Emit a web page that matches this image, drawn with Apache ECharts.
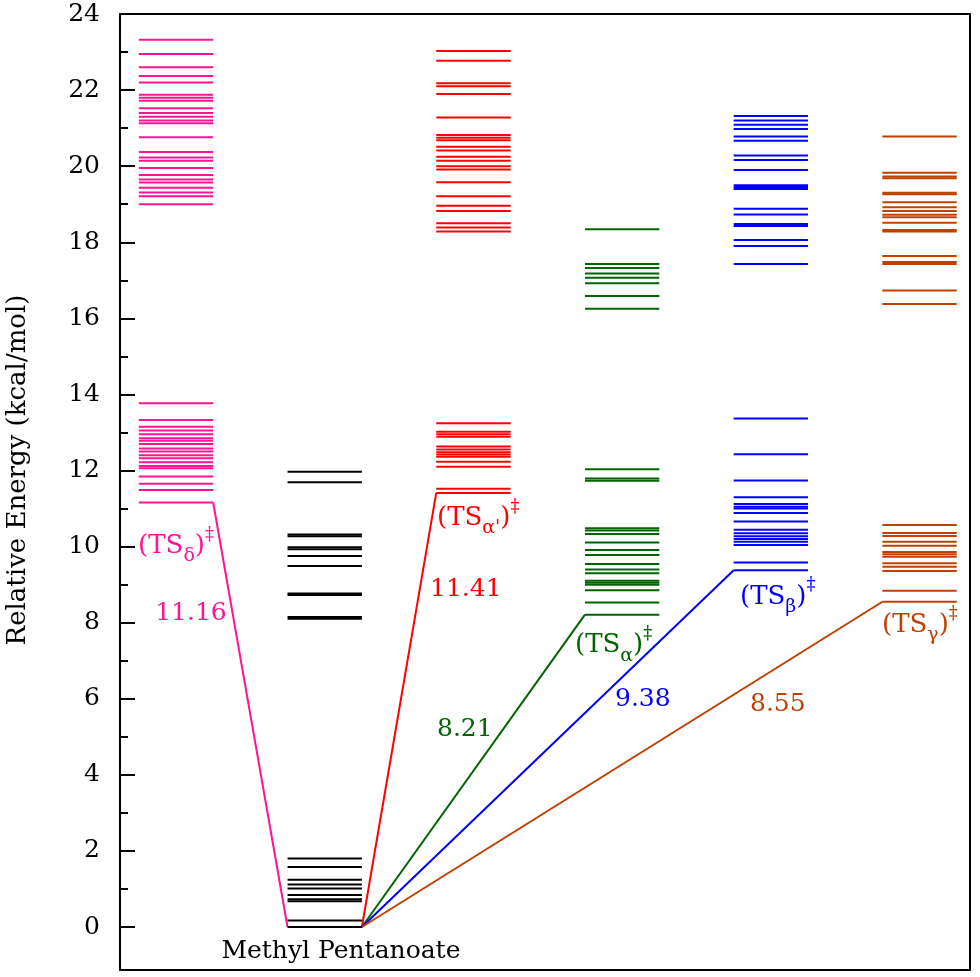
<!DOCTYPE html>
<html>
<head>
<meta charset="utf-8">
<script src="https://cdn.jsdelivr.net/npm/echarts@6/dist/echarts.min.js"></script>
<style>html,body{margin:0;padding:0;background:#fff}#c{width:980px;height:977px}</style>
</head>
<body>
<div id="c"></div>
<script>
// ---- data ----
const columns = ['TSδ', 'Methyl Pentanoate', "TSα'", 'TSα', 'TSβ', 'TSγ'];
const colors = ['#ff1493', '#000000', '#ff0000', '#006400', '#0000ff', '#c04000'];
const tsDelta = [23.32, 22.95, 22.60, 22.37, 22.20, 21.88, 21.80, 21.72, 21.52, 21.40, 21.30, 21.20, 21.13, 20.76, 20.37, 20.23, 20.14, 19.95, 19.77, 19.65, 19.57, 19.43, 19.31, 19.21, 19.00,
  13.77, 13.33, 13.15, 13.05, 12.95, 12.85, 12.78, 12.70, 12.58, 12.50, 12.40, 12.32, 12.22, 12.12, 12.06, 11.84, 11.65, 11.49, 11.16];
const methylPentanoate = [11.97, 11.69, 10.32, 10.27, 9.98, 9.93, 9.75, 9.49, 8.77, 8.73, 8.15, 8.10,
  1.80, 1.58, 1.24, 1.12, 1.01, 0.84, 0.73, 0.68, 0.17, 0];
const tsAlphaPrime = [23.03, 22.77, 22.18, 22.10, 21.90, 21.28, 20.82, 20.75, 20.68, 20.51, 20.41, 20.25, 20.14, 20.00, 19.91, 19.58, 19.21, 18.96, 18.82, 18.50, 18.39, 18.28,
  13.24, 13.02, 12.95, 12.89, 12.63, 12.55, 12.48, 12.42, 12.36, 12.23, 12.10, 11.52, 11.41];
const tsAlpha = [18.34, 17.43, 17.32, 17.18, 17.07, 16.92, 16.59, 16.25,
  12.03, 11.79, 11.73, 10.48, 10.42, 10.33, 10.11, 9.91, 9.78, 9.54, 9.40, 9.30, 9.10, 9.05, 9.00, 8.85, 8.53, 8.21];
const tsBeta = [21.32, 21.20, 21.09, 20.98, 20.78, 20.67, 20.28, 20.16, 19.90, 19.50, 19.45, 19.40, 18.88, 18.73, 18.48, 18.43, 18.06, 17.90, 17.43,
  13.37, 12.43, 11.74, 11.30, 11.12, 11.05, 11.00, 10.88, 10.66, 10.44, 10.35, 10.27, 10.20, 10.13, 10.04, 9.58, 9.38];
const tsGamma = [20.78, 19.83, 19.73, 19.68, 19.30, 19.26, 19.05, 18.92, 18.82, 18.72, 18.66, 18.51, 18.32, 18.28, 17.64, 17.48, 17.43, 16.73, 16.38,
  10.57, 10.36, 10.28, 10.13, 10.02, 9.86, 9.80, 9.73, 9.56, 9.47, 9.36, 8.84, 8.55];
const levels = [tsDelta, methylPentanoate, tsAlphaPrime, tsAlpha, tsBeta, tsGamma];
const barrier = [11.16, 0, 11.41, 8.21, 9.38, 8.55];
const barrierText = ['11.16', '', '11.41', '8.21', '9.38', '8.55'];
const majorTicks = [0, 2, 4, 6, 8, 10, 12, 14, 16, 18, 20, 22, 24];
const minorTicks = [1, 3, 5, 7, 9, 11, 13, 15, 17, 19, 21, 23];

// ---- layout helpers ----
const HALF = 0.25;
const FONT = 'DejaVu Serif';
// label anchor positions (data coords): [tsLabelX, tsLabelY, valueX, valueY]
const labelPos = [
  [-0.255, 10.02, -0.14, 8.23],
  null,
  [1.755, 10.75, 1.708, 8.86],
  [2.683, 7.41, 1.755, 5.18],
  [3.793, 8.68, 2.952, 5.97],
  [4.748, 7.94, 3.86, 5.86]
];
const subs = ['δ', '', "α'", 'α', 'β', 'γ'];

const series = [];
levels.forEach((arr, i) => {
  const col = colors[i];
  series.push({
    type: 'custom',
    data: arr.map(e => [i, e]),
    renderItem: (params, api) => {
      const x = api.value(0), y = api.value(1);
      const p1 = api.coord([x - HALF, y]);
      const p2 = api.coord([x + HALF, y]);
      return { type: 'line', shape: { x1: p1[0], y1: p1[1], x2: p2[0], y2: p2[1] }, style: { stroke: col, lineWidth: 2 } };
    },
    silent: true,
    z: 3
  });
});
// connectors
levels.forEach((arr, i) => {
  if (i === 1) return;
  let d;
  if (i === 0) d = [[i + HALF, barrier[i]], [1 - HALF, 0]];
  else d = [[1 + HALF, 0], [i - HALF, barrier[i]]];
  series.push({ type: 'line', data: d, symbol: 'none', lineStyle: { color: colors[i], width: 2 }, silent: true, z: 2 });
});
// labels
const labelData = [];
levels.forEach((arr, i) => {
  const p = labelPos[i];
  if (!p) return;
  labelData.push({
    value: [p[0], p[1]],
    label: {
      formatter: '{m|(TS}{s|' + subs[i] + '}{m|)}{u|‡}',
      color: colors[i],
      rich: {
        m: { fontFamily: FONT, fontSize: 26, color: colors[i], lineHeight: 40, verticalAlign: 'middle' },
        s: { fontFamily: FONT, fontSize: 19, color: colors[i], verticalAlign: 'bottom', lineHeight: 40 },
        u: { fontFamily: FONT, fontSize: 18, color: colors[i], verticalAlign: 'top', lineHeight: 40 }
      }
    }
  });
  labelData.push({
    value: [p[2], p[3]],
    label: { formatter: barrierText[i], color: colors[i], fontFamily: FONT, fontSize: 25 }
  });
});
labelData.push({ value: [1.109, -0.65], label: { formatter: columns[1], color: '#000', fontFamily: FONT, fontSize: 25, position: 'inside', align: 'center' } });
series.push({
  type: 'scatter', data: labelData, symbolSize: 0, silent: true, z: 5,
  itemStyle: { opacity: 1 },
  label: { show: true, opacity: 1, position: 'right', distance: 0, align: 'left', verticalAlign: 'middle' }
});

const yCommon = { type: 'value', min: -1.13, max: 24, position: 'left', splitLine: { show: false } };
const chart = echarts.init(document.getElementById('c'));
chart.setOption({
  animation: false,
  backgroundColor: '#fff',
  grid: { left: 120, right: 10, top: 14, bottom: 7, show: true, borderColor: '#000', borderWidth: 2, backgroundColor: 'transparent' },
  xAxis: { type: 'value', min: -0.3767, max: 5.3393, show: false },
  yAxis: [
    Object.assign({}, yCommon, {
      axisLine: { show: true, onZero: false, lineStyle: { color: '#000', width: 2 } },
      axisTick: { show: true, inside: true, length: 15, lineStyle: { color: '#000', width: 2 }, customValues: majorTicks },
      axisLabel: { show: true, customValues: majorTicks, margin: 20, fontFamily: FONT, fontSize: 25, color: '#000' }
    }),
    Object.assign({}, yCommon, {
      axisLine: { show: false, onZero: false },
      axisTick: { show: true, inside: true, length: 8, lineStyle: { color: '#000', width: 2 }, customValues: minorTicks },
      axisLabel: { show: false }
    })
  ],
  graphic: [{
    type: 'text', x: 18, y: 470, rotation: Math.PI / 2,
    style: { text: 'Relative Energy (kcal/mol)', fontFamily: FONT, fontSize: 26, fill: '#000', align: 'center', verticalAlign: 'middle' }
  }],
  series: series
});
</script>
</body>
</html>
